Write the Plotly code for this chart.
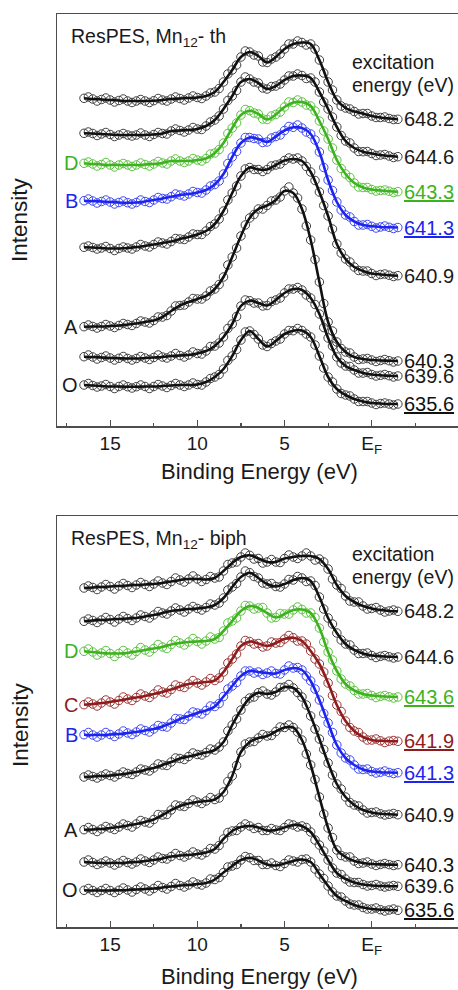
import plotly.graph_objects as go

# ---------------- data ----------------
# fitted curves, sampled every 0.5 eV
binding_energy = [16.5, 16.0, 15.5, 15.0, 14.5, 14.0, 13.5, 13.0, 12.5, 12.0, 11.5, 11.0,
                  10.5, 10.0, 9.5, 9.0, 8.5, 8.0, 7.5, 7.0, 6.5, 6.0, 5.5, 5.0, 4.5, 4.0,
                  3.5, 3.0, 2.5, 2.0, 1.5, 1.0, 0.5, 0.0, -0.5, -1.0, -1.5]
# extra measured points lying between the fit samples
binding_energy_mid = [16.25, 15.75, 15.25, 14.75, 14.25, 13.75, 13.25, 12.75, 12.25, 11.75, 11.25,
                      10.75, 10.25, 9.75, 9.25, 8.75, 8.25, 7.75, 7.25, 6.75, 6.25, 5.75, 5.25,
                      4.75, 4.25, 3.75, 3.25, 2.75, 2.25, 1.75, 1.25, 0.75, 0.25, -0.25, -0.75, -1.25]

# Mn12-th (intensity, arbitrary units, vertical offsets included)
th_648_2 = [327.7, 327, 326.5, 326, 325.5, 325, 325, 325, 325.3, 326, 327, 327.5, 328, 328.5, 330, 334, 344, 356, 369, 374, 370, 363.5, 369, 377, 382, 383.5, 382, 366, 344, 326, 318, 314.5, 312.5, 310, 308.5, 307.5, 306.7]
th_644_6 = [292.7, 292.5, 292, 291.5, 291, 291, 291, 291, 291.5, 292.5, 295, 295.5, 296, 297, 300, 306, 317, 330, 344, 347, 343, 337, 340, 346, 350, 350.5, 348, 334, 317, 299, 285, 278, 274.3, 272.5, 271, 270, 269.3]
th_643_3 = [262.7, 262, 261.5, 261, 261, 261, 261, 261.5, 262, 263, 265, 265, 265, 266, 267.5, 273, 283, 298, 311, 315.3, 312, 306.5, 311.5, 319, 323.5, 324, 320, 305, 287, 266, 252, 243, 238.5, 236.5, 235.5, 234.8, 234.3]
th_641_3 = [225.3, 225, 224.5, 224, 223.5, 223.3, 223.5, 224.5, 226, 227.5, 229.3, 231, 232, 233.5, 236, 241.5, 252, 269, 283, 288.5, 287, 284, 289.5, 295.5, 298.7, 298, 292, 274, 246, 224, 211, 204.5, 201, 199.7, 199, 198.7, 198.5]
th_640_9 = [178.7, 178.5, 178, 177.5, 177.5, 178, 179, 180, 181.5, 183, 184.5, 187, 189, 191.5, 195, 202, 215, 233, 250, 258.5, 256.5, 256.5, 261, 265.5, 267, 265, 254, 234, 210, 182, 167, 159, 155, 152.5, 151.5, 150.8, 150.3]
th_640_3 = [99.3, 99.5, 99.5, 100, 100.5, 101.5, 102.5, 104, 105.5, 109, 115, 120.5, 124, 127, 130, 137, 149, 169, 190, 208, 217, 220.5, 226, 235, 233, 217, 186, 144, 104, 84, 74, 69, 67, 66, 65.5, 65.3, 65]
th_639_6 = [69.3, 69, 68.5, 68, 67.7, 67.5, 67.5, 68, 68.5, 69, 70, 70.5, 71, 72.5, 75, 80, 89, 102, 120, 125.3, 123, 120.5, 126, 133, 137, 136, 128, 112, 88, 69, 60, 56, 53, 51.5, 50.7, 50.3, 50]
th_635_6 = [41, 40.5, 40, 39.5, 39.5, 39.3, 39.3, 39.5, 39.5, 40, 40.5, 41, 41, 41.5, 44, 49, 57, 70, 86, 95, 87, 79.5, 85, 92, 95.3, 95.5, 89, 70, 49, 37, 31, 27, 24.5, 23, 22.5, 22, 22]

th_648_2_mid = [329, 325, 328, 324, 327, 323.5, 326.5, 323.5, 327.5, 325, 329, 326, 330, 327.5, 333, 337.5, 352, 361, 375, 371, 364, 367, 372, 382, 385, 381, 377, 353, 336, 320, 317, 312, 312.5, 308.5, 309, 306.5]
th_644_6_mid = [294, 290.5, 293.5, 289.5, 292.5, 290, 293, 289.5, 293.5, 292, 297, 294, 298.5, 296.5, 304, 310, 325.5, 335.5, 349, 344, 338, 339.5, 342, 350, 352, 347.5, 344, 324, 309, 290.5, 283, 274.5, 274.5, 270.5, 271.5, 268.5]
th_643_3_mid = [264, 260, 263.5, 259, 262.5, 259.5, 263, 260, 264.5, 262, 267, 263.5, 267.5, 265, 272, 276.5, 292.5, 303, 316.5, 313, 307, 310, 314, 324, 326, 321, 315, 295, 278, 257.5, 248.5, 239, 238.5, 235, 236, 233.5]
th_641_3_mid = [227, 223, 226, 222, 225, 222, 226, 223.5, 228.5, 227, 232, 230, 234.5, 233, 240, 245, 262.5, 274.5, 288.5, 287.5, 283.5, 288, 291, 299.5, 301, 294, 286, 258.5, 235.5, 216, 209, 201, 201.5, 198, 200, 197.5]
th_640_9_mid = [180, 177, 179.5, 175.5, 179, 177, 181.5, 179, 184, 182, 187.5, 186.5, 192, 191.5, 199.5, 207, 226, 240, 257, 256.5, 254.5, 260, 262, 268, 268, 259.5, 245.5, 220.5, 197, 173, 164, 155.5, 155, 150.5, 152, 149.5]
th_640_3_mid = [101, 98, 101.5, 98.5, 102.5, 100.5, 105, 103, 109, 110.5, 120, 121, 127.5, 127, 135, 141.5, 161, 178, 201, 211.5, 217, 225, 229, 239, 228, 200, 166.5, 122.5, 95, 77.5, 73, 66.5, 67.5, 64.5, 66.5, 64]
th_639_6_mid = [71, 67, 70, 66, 69.5, 66, 69.5, 66.5, 71, 68, 72.5, 69, 74, 72, 79.5, 83, 97.5, 109.5, 126, 123, 120, 124.5, 128, 137, 138.5, 131, 121.5, 98.5, 80, 63, 59.5, 53, 53.5, 50, 51.5, 49]
th_635_6_mid = [42.5, 39, 41.5, 37.5, 41, 38, 41, 37.5, 41.5, 38.5, 42.5, 39.5, 43, 41, 47.5, 51.5, 65.5, 76.5, 94, 91.5, 81, 82.5, 87, 95.5, 97.5, 92, 81, 58, 44, 32.5, 30, 24.5, 24.5, 21.5, 23, 21]

# Mn12-biph
bi_648_2 = [339, 339.5, 340, 340.5, 341, 341.5, 342, 342.5, 343, 344, 345.5, 347, 348, 348, 347.5, 349, 356, 364, 370, 371.7, 368.5, 365, 365, 368.5, 370, 371, 371, 368, 358, 342, 331, 325, 321, 318.5, 317, 316, 315.7]
bi_644_6 = [305.7, 306.5, 307, 307.5, 308, 308.5, 309, 310.5, 312, 314, 316, 317, 318, 318.5, 319.5, 322, 329, 340, 350, 354.3, 349, 343, 340.5, 343, 347, 349, 346, 330, 309, 294, 283, 277, 273.5, 271.5, 270.7, 270.2, 270]
bi_643_6 = [275.7, 275, 274, 273.5, 273.5, 274, 275.5, 277, 278.5, 280, 282.5, 284, 285, 285.5, 286, 288, 296, 306, 316, 321, 319, 314, 309.5, 313, 317, 317.5, 314, 299, 275, 256, 243, 236.5, 233, 231.5, 230.7, 230.2, 230]
bi_641_9 = [222.3, 223, 224, 225, 226.5, 228, 229.5, 231, 233, 235, 237.5, 240.5, 243, 244, 245, 246.5, 255, 268, 281, 285.5, 283.5, 281, 284, 288, 289.3, 286, 276, 263, 244, 222, 206, 196, 190, 187, 186.2, 185.8, 185.7]
bi_641_3 = [192.3, 192, 192, 192.5, 193, 194, 195, 196.5, 198, 200.5, 204, 208, 211, 214, 216.5, 220.5, 230.5, 241, 251, 256, 255, 254, 253.5, 257, 259, 257, 246, 227, 204, 182, 169, 162, 157.5, 155.5, 154.8, 154.5, 154.3]
bi_640_9 = [150, 150.5, 151, 151.5, 152.5, 153.5, 155, 157, 159, 162, 165, 168.5, 170.5, 172.5, 174.5, 177, 185, 202, 217, 229, 234.3, 233, 235, 240, 239, 230, 211, 188, 164, 143, 130, 122, 117, 114.5, 113.2, 112.7, 112.3]
bi_640_3 = [97.3, 97.5, 98, 99, 100, 101.5, 103, 105, 107.5, 112, 117, 121, 123.5, 125, 126, 127.5, 135, 151, 175, 185, 189, 191, 195.5, 199.5, 199.5, 187, 162, 130, 99, 77, 70, 66, 64, 63, 62.6, 62.4, 62.3]
bi_639_6 = [65, 64.5, 64, 64, 64, 64.5, 65, 66, 67, 68.5, 70.5, 71.5, 72, 73, 74.5, 78, 88, 96, 100, 101, 99.5, 96.5, 97, 99.5, 102, 101, 95, 82, 67, 54, 48, 44.5, 42.5, 41.5, 41, 40.8, 40.7]
bi_635_6 = [36.7, 36.5, 36.5, 36.5, 36.7, 37, 37.5, 38, 38.5, 39.5, 40.5, 41.5, 42, 43, 44, 47.5, 54.5, 61, 67, 69.3, 66.5, 62.5, 61.5, 63.5, 66, 67.5, 65, 53, 41, 31, 26, 22, 19.5, 18, 17.3, 17, 16.7]

bi_648_2_mid = [341, 337.5, 342.5, 338, 343.5, 339.5, 344.5, 340.5, 346, 342.5, 349, 345, 351, 345.5, 350.5, 350, 362.5, 365, 374, 368, 364, 367.5, 364.5, 372, 368.5, 374, 367, 365, 348, 338.5, 326, 325, 318, 319.5, 315, 317]
bi_644_6_mid = [308, 304.5, 309.5, 305, 310.5, 306.5, 312, 309, 315.5, 313, 319, 315, 320.5, 317, 323, 324, 337, 343.5, 356, 350.5, 344, 343.5, 340, 347.5, 350.5, 345.5, 341.5, 318, 303, 287, 282, 273.5, 274, 269.5, 271.5, 269]
bi_643_6_mid = [278, 272, 276.5, 270.5, 276.5, 272, 279.5, 275, 282.5, 278.5, 286.5, 282, 288.5, 283, 290, 289.5, 304, 309, 321.5, 318, 319.5, 309, 313.5, 313, 320, 314, 309.5, 285, 267, 248, 241, 233, 233.5, 229.5, 231.5, 229]
bi_641_9_mid = [225, 221, 227, 223, 230, 226.5, 233, 229.5, 237, 234, 242, 239.5, 246.5, 242, 248.5, 249, 264, 273, 286.5, 283, 280, 285, 284.5, 291.5, 286, 283, 268, 255, 231.5, 215.5, 199.5, 194.5, 187, 188, 184.5, 186.5]
bi_641_3_mid = [194.5, 190, 194.5, 190.5, 196, 192.5, 198, 195, 201.5, 200, 208.5, 207.5, 215, 213, 221, 223.5, 238, 244.5, 256, 254, 252.5, 256, 253, 261, 259.5, 251, 238, 213.5, 194.5, 174, 167, 158, 158, 154, 156, 153.5]
bi_640_9_mid = [152, 149, 153, 150, 155, 152.5, 158, 156, 163, 161.5, 169, 167.5, 174, 172, 178, 180, 196, 208, 225.5, 230, 236, 232, 239.5, 242.5, 234.5, 222, 198, 177.5, 152, 138, 124.5, 121, 114, 115, 112, 113.5]
bi_640_3_mid = [99.5, 95.5, 100.5, 97.5, 103, 100, 106.5, 104, 112.5, 112.5, 122, 120.5, 127, 123.5, 129.5, 129, 145.5, 161.5, 183, 185.5, 192.5, 191.5, 200, 202, 195, 173, 147.5, 113, 89.5, 71.5, 70, 63.5, 65, 61.5, 63.5, 61.5]
bi_639_6_mid = [67, 62.5, 66, 62, 66.5, 63, 68, 64.5, 70, 68, 73.5, 70, 75, 72, 78.5, 81.5, 94.5, 96.5, 103, 98.5, 96.5, 98.5, 96.5, 103, 100, 99.5, 87, 76, 59, 52.5, 45, 44.5, 41, 42.5, 40, 41.5]
bi_635_6_mid = [38.5, 34.5, 38.5, 34.5, 39, 35, 40, 36, 41.5, 38, 43.5, 40, 45, 42, 48, 49.5, 60, 62.5, 70.5, 66.5, 62.5, 64, 60.5, 67, 65, 68, 58, 48.5, 35, 30, 23, 22, 18, 19, 16, 18]

th_energies = ["648.2", "644.6", "643.3", "641.3", "640.9", "640.3", "639.6", "635.6"]
th_spectra = [th_648_2, th_644_6, th_643_3, th_641_3, th_640_9, th_640_3, th_639_6, th_635_6]
th_points = [th_648_2_mid, th_644_6_mid, th_643_3_mid, th_641_3_mid, th_640_9_mid, th_640_3_mid,
             th_639_6_mid, th_635_6_mid]
th_letters = {"643.3": "D", "641.3": "B", "640.3": "A", "635.6": "O"}
th_underlined = ["643.3", "641.3", "635.6"]

bi_energies = ["648.2", "644.6", "643.6", "641.9", "641.3", "640.9", "640.3", "639.6", "635.6"]
bi_spectra = [bi_648_2, bi_644_6, bi_643_6, bi_641_9, bi_641_3, bi_640_9, bi_640_3, bi_639_6, bi_635_6]
bi_points = [bi_648_2_mid, bi_644_6_mid, bi_643_6_mid, bi_641_9_mid, bi_641_3_mid, bi_640_9_mid,
             bi_640_3_mid, bi_639_6_mid, bi_635_6_mid]
bi_letters = {"643.6": "D", "641.9": "C", "641.3": "B", "640.3": "A", "635.6": "O"}
bi_underlined = ["643.6", "641.9", "641.3", "635.6"]

x_ticks = [15, 10, 5, 0]
x_ticktext = ["15", "10", "5", "E<sub>F</sub>"]
x_minor = [17.5, 12.5, 7.5, 2.5, -2.5]

# ---------------- styling ----------------
FONT = "Liberation Sans, Arial, sans-serif"
TXT = "#1a1a1a"
FRAME = "#4d4d4d"
COLORS = {"D": "#3cb21e", "B": "#1c24f0", "C": "#8e1c1c"}
MARKER_COLORS = {"D": "#5cc240", "B": "#4048f2", "C": "#9c3636"}

W, H = 458, 990
ML, MR, MT, MB = 57, 0, 14, 63
PLOT_H = H - MT - MB


def py2paper(py):
    return (H - MB - py) / PLOT_H


def px2paper(px):
    return (px - ML) / (W - ML - MR)


fig = go.Figure()
annotations = []


def add_panel(energies, spectra, points, letters, underlined, xref, yref, title, title_y, exc_y):
    for lab, ys, pts in zip(energies, spectra, points):
        letter = letters.get(lab)
        col = COLORS.get(letter, "#111111")
        mcol = MARKER_COLORS.get(letter, "#404040")
        fig.add_trace(go.Scatter(
            x=binding_energy + binding_energy_mid, y=ys + pts, mode="markers",
            xaxis=xref, yaxis=yref,
            marker=dict(symbol="circle-open", size=8.5, color=mcol, line=dict(width=1, color=mcol)),
            showlegend=False, hoverinfo="skip"))
        fig.add_trace(go.Scatter(
            x=binding_energy, y=ys, mode="lines", xaxis=xref, yaxis=yref,
            line=dict(color=col, width=2.6, shape="spline", smoothing=1.0),
            showlegend=False, name=lab))
        txt = f"<u>{lab}</u>" if lab in underlined else lab
        annotations.append(dict(x=-1.75, y=ys[-1], xref=xref, yref=yref, text=txt,
                                showarrow=False, xanchor="left", yanchor="middle",
                                font=dict(family=FONT, size=20, color=col if letter else TXT)))
        if letter:
            annotations.append(dict(x=16.72, y=ys[0], xref=xref, yref=yref, text=letter,
                                    showarrow=False, xanchor="right", yanchor="middle",
                                    font=dict(family=FONT, size=20,
                                              color=col if letter in COLORS else TXT)))
    annotations.append(dict(x=px2paper(69), y=title_y, xref="paper", yref="paper", text=title,
                            showarrow=False, xanchor="left", yanchor="middle",
                            font=dict(family=FONT, size=19.5, color=TXT)))
    annotations.append(dict(x=px2paper(350), y=exc_y[0], xref="paper", yref="paper", text="excitation",
                            showarrow=False, xanchor="left", yanchor="middle",
                            font=dict(family=FONT, size=19.5, color=TXT)))
    annotations.append(dict(x=px2paper(350), y=exc_y[1], xref="paper", yref="paper", text="energy (eV)",
                            showarrow=False, xanchor="left", yanchor="middle",
                            font=dict(family=FONT, size=19.5, color=TXT)))


add_panel(th_energies, th_spectra, th_points, th_letters, th_underlined, "x", "y",
          "ResPES, Mn<sub>12</sub>- th", py2paper(37), (py2paper(62), py2paper(85)))
add_panel(bi_energies, bi_spectra, bi_points, bi_letters, bi_underlined, "x2", "y2",
          "ResPES, Mn<sub>12</sub>- biph", py2paper(539), (py2paper(554), py2paper(577)))

for ty in (472, 976):
    annotations.append(dict(x=px2paper(259), y=py2paper(ty), xref="paper", yref="paper",
                            text="Binding Energy (eV)", showarrow=False, xanchor="center",
                            yanchor="middle", font=dict(family=FONT, size=22, color=TXT)))
for ty in (220, 725):
    annotations.append(dict(x=px2paper(20), y=py2paper(ty), xref="paper", yref="paper",
                            text="Intensity", showarrow=False, textangle=-90, xanchor="center",
                            yanchor="middle", font=dict(family=FONT, size=22.5, color=TXT)))

xaxis_common = dict(range=[18.05, -4.95], tickmode="array", tickvals=x_ticks, ticktext=x_ticktext,
                    ticks="inside", ticklen=6, tickwidth=1.2, tickcolor=FRAME,
                    minor=dict(tickmode="array", tickvals=x_minor, ticks="inside", ticklen=3,
                               tickwidth=1.2, tickcolor=FRAME),
                    showline=True, linecolor=FRAME, linewidth=1.5, mirror=True,
                    showgrid=False, zeroline=False, ticklabelstandoff=0,
                    tickfont=dict(family=FONT, size=19, color=TXT))
yaxis_common = dict(showticklabels=False, ticks="", showline=True, linecolor=FRAME, linewidth=1.5,
                    showgrid=False, zeroline=False)

fig.update_layout(
    width=W, height=H,
    margin=dict(l=ML, r=MR, t=MT, b=MB),
    paper_bgcolor="white", plot_bgcolor="white",
    xaxis=dict(anchor="y", **xaxis_common),
    xaxis2=dict(anchor="y2", **xaxis_common),
    yaxis=dict(domain=[py2paper(426), 1.0], range=[0, 412], anchor="x", **yaxis_common),
    yaxis2=dict(domain=[0.0, py2paper(516)], range=[0, 411], anchor="x2", **yaxis_common),
    annotations=annotations,
    showlegend=False,
    hovermode=False,
)

fig.write_html("out.html", config={"displayModeBar": False, "staticPlot": True},
               post_script="document.body.style.margin='0px';")
